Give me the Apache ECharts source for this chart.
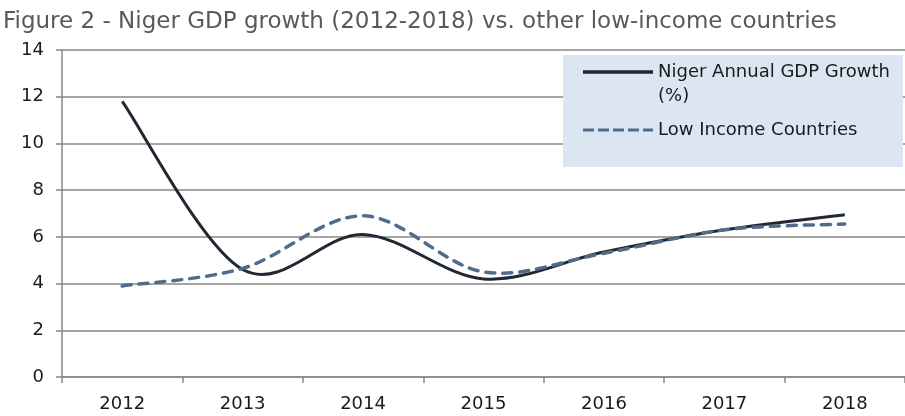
<!DOCTYPE html>
<html>
	<head>
		<meta charset="utf-8" />
		<title>Figure 2</title>
		<script src="https://cdn.jsdelivr.net/npm/echarts@6/dist/echarts.min.js"></script>
		<style>
			html, body { margin: 0; padding: 0; background: #fff; }
			#chart { width: 905px; height: 416px; }
		</style>
	</head>
	<body>
		<div id="chart"></div>
	<script type="text/javascript">
		// data
		var years = ['2012', '2013', '2014', '2015', '2016', '2017', '2018'];
		var niger = [11.8, 4.6, 6.1, 4.2, 5.35, 6.3, 6.95];
		var lowIncome = [3.9, 4.65, 6.9, 4.5, 5.3, 6.3, 6.55];
		var nigerName = 'Niger Annual GDP Growth (%)';
		var lowName = 'Low Income Countries';

		var font = 'DejaVu Sans';
		var grey = '#878787';
		var nigerColor = '#1f2833';
		var lowColor = '#4f6d8b';
		var myChart = echarts.init(document.getElementById('chart'));

		//// smoothed line like the spreadsheet one (catmull-rom through the points)
		function smoothPath(p) {
			var d = 'M' + p[0][0] + ' ' + p[0][1];
			for (var i = 0; i < p.length - 1; i++) {
				var p0 = p[i - 1] || p[i], p1 = p[i], p2 = p[i + 1], p3 = p[i + 2] || p[i + 1];
				var c1x = p1[0] + (p2[0] - p0[0]) / 6, c1y = p1[1] + (p2[1] - p0[1]) / 6;
				var c2x = p2[0] - (p3[0] - p1[0]) / 6, c2y = p2[1] - (p3[1] - p1[1]) / 6;
				d += ' C' + c1x + ' ' + c1y + ' ' + c2x + ' ' + c2y + ' ' + p2[0] + ' ' + p2[1];
			}
			return d;
		}
		function lineRenderer(values, color, width, dash, cap) {
			return function (params, api) {
				if (params.dataIndex !== 0) return;
				var pts = values.map(function (v, i) { return api.coord([i, v]); });
				return {
					type: 'path',
					shape: { pathData: smoothPath(pts) },
					style: { fill: 'none', stroke: color, lineWidth: width, lineDash: dash, lineCap: cap }
				};
			};
		}

		var option = {
			backgroundColor: '#fff',
			animation: false,
			title: {
				text: 'Figure 2 - Niger GDP growth (2012-2018) vs. other low-income countries',
				left: 0,
				top: 11,
				padding: [0, 0, 0, 3],
				textStyle: { fontFamily: font, fontSize: 23, fontWeight: 'normal', color: '#595959' }
			},
			grid: { left: 62, right: 0, top: 50, bottom: 39 },
			graphic: [{
				type: 'rect',
				z: 3,
				shape: { x: 563, y: 55, width: 340, height: 112 },
				style: { fill: '#dce6f2' }
			}],
			legend: [{
				data: [{ name: nigerName, icon: 'rect' }],
				left: 583,
				top: 36,
				itemWidth: 70,
				itemHeight: 3.5,
				padding: 0,
				formatter: function (n) { return ' \n' + n.replace(' (%)', '\n(%)'); },
				textStyle: { fontFamily: font, fontSize: 18, color: '#1a1a1a', lineHeight: 24 }
			}, {
				data: [{ name: lowName, icon: 'path://M0,0h11v3h-11z M15,0h11v3h-11z M30,0h11v3h-11z M45,0h11v3h-11z M60,0h10v3h-10z' }],
				left: 583,
				top: 118,
				itemWidth: 70,
				itemHeight: 3.5,
				padding: 0,
				textStyle: { fontFamily: font, fontSize: 18, color: '#1a1a1a', lineHeight: 24 }
			}],
			xAxis: {
				type: 'category',
				data: years,
				boundaryGap: true,
				axisLine: { lineStyle: { color: grey, width: 1.5 } },
				axisTick: { show: true, interval: 0, length: 6, lineStyle: { color: grey, width: 1.5 } },
				axisLabel: { margin: 18, fontFamily: font, fontSize: 18, color: '#1a1a1a' }
			},
			yAxis: {
				type: 'value',
				min: 0,
				max: 14,
				interval: 2,
				axisLine: { show: true, lineStyle: { color: grey, width: 1.5 } },
				axisTick: { show: true, length: 6, lineStyle: { color: grey, width: 1.5 } },
				axisLabel: { margin: 18, fontFamily: font, fontSize: 18, color: '#1a1a1a' },
				splitLine: { lineStyle: { color: grey, width: 1.5 } }
			},
			series: [{
				name: nigerName,
				type: 'custom',
				data: niger.map(function (v, i) { return [i, v]; }),
				encode: { x: 0, y: 1 },
				itemStyle: { color: nigerColor },
				renderItem: lineRenderer(niger, nigerColor, 3, null, 'butt')
			}, {
				name: lowName,
				type: 'custom',
				data: lowIncome.map(function (v, i) { return [i, v]; }),
				encode: { x: 0, y: 1 },
				itemStyle: { color: lowColor },
				renderItem: lineRenderer(lowIncome, lowColor, 3.5, [9, 8], 'round')
			}]
		};

		myChart.setOption(option);
	</script>
	</body>
</html>
